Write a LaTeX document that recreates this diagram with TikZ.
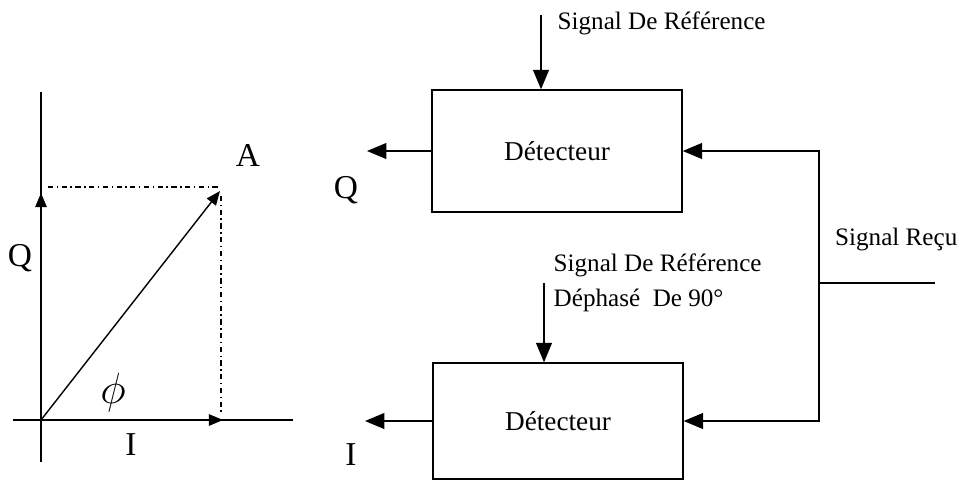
\documentclass[tikz,border=0pt]{standalone}
\usepackage{fontspec}
\setmainfont{Liberation Serif}
\usetikzlibrary{arrows.meta,positioning}

\begin{document}
\begin{tikzpicture}[x=0.02cm,y=-0.02cm,line width=0.8pt,
  tri/.style={-{Triangle[length=11pt,width=9pt]}},
  smalltri/.style={-{Triangle[length=8pt,width=6.5pt]}},
  detbox/.style={draw,minimum width=5cm,minimum height=2.44cm,font=\fontsize{15.5}{18}\selectfont},
  lbl/.style={font=\fontsize{14.3}{20}\selectfont,inner sep=0pt},
  letter/.style={font=\fontsize{19}{22}\selectfont,inner sep=0pt}]
\useasboundingbox (0,0) rectangle (963,481);
% phasor diagram
\coordinate (O) at (41,420); \coordinate (A) at (220,191);
\coordinate (Qtop) at (41,92); \coordinate (Qbot) at (41,462); \coordinate (Qa) at (41,193);
\coordinate (Ileft) at (13,420); \coordinate (Iright) at (293,420); \coordinate (Ia) at (223,420);
\coordinate (Ah) at (48,187); \coordinate (Ahe) at (218,187); \coordinate (Av) at (221,196); \coordinate (Ave) at (221,415);
\draw (Qtop)--(Qbot); \draw (Ileft)--(Iright);
\draw[smalltri] (O)--(Qa); \draw[smalltri] (O)--(Ia); \draw[smalltri] (O)--(A);
\draw[dash dot] (Ah)--(Ahe); \draw[dash dot] (Av)--(Ave);
\node[letter] (lA) at (248,155) {A}; \node[letter] (lQ) at (20,258) {Q};
\node[letter] (lI) at (131,445) {I};
\node[letter,font=\fontsize{27}{30}\selectfont] (lphi) at (113,393) {$\phi$};
% detectors
\node[detbox] (det1) at (557,151) {Détecteur};
\node[detbox,minimum height=2.32cm] (det2) at (558,421) {Détecteur};
\coordinate (ref1) at (541,15); \coordinate (ref2) at (544,283);
\draw[tri] (ref1)--(ref1 |- det1.north); \draw[tri] (ref2)--(ref2 |- det2.north);
\node[lbl,anchor=base west] (sref1) at (557,29) {Signal De Référence};
\node[lbl,anchor=west,align=left] (sref2) at (553,283) {Signal De Référence\\Déphasé\ \ De 90°};
\coordinate (q) at (367,151); \coordinate (i) at (365,421);
\draw[tri] (det1.west)--(q); \draw[tri] (det2.west)--(i);
\node[letter] (lq) at (346,190) {Q}; \node[letter] (li) at (351,455) {I};
% received signal
\coordinate (sig) at (935,283); \coordinate (br) at (819,283);
\draw (sig)--(br); \draw[tri] (br) |- (det1.east); \draw[tri] (br) |- (det2.east);
\node[lbl,anchor=base east] (srecu) at (958,245) {Signal Reçu};
\end{tikzpicture}
\end{document}
